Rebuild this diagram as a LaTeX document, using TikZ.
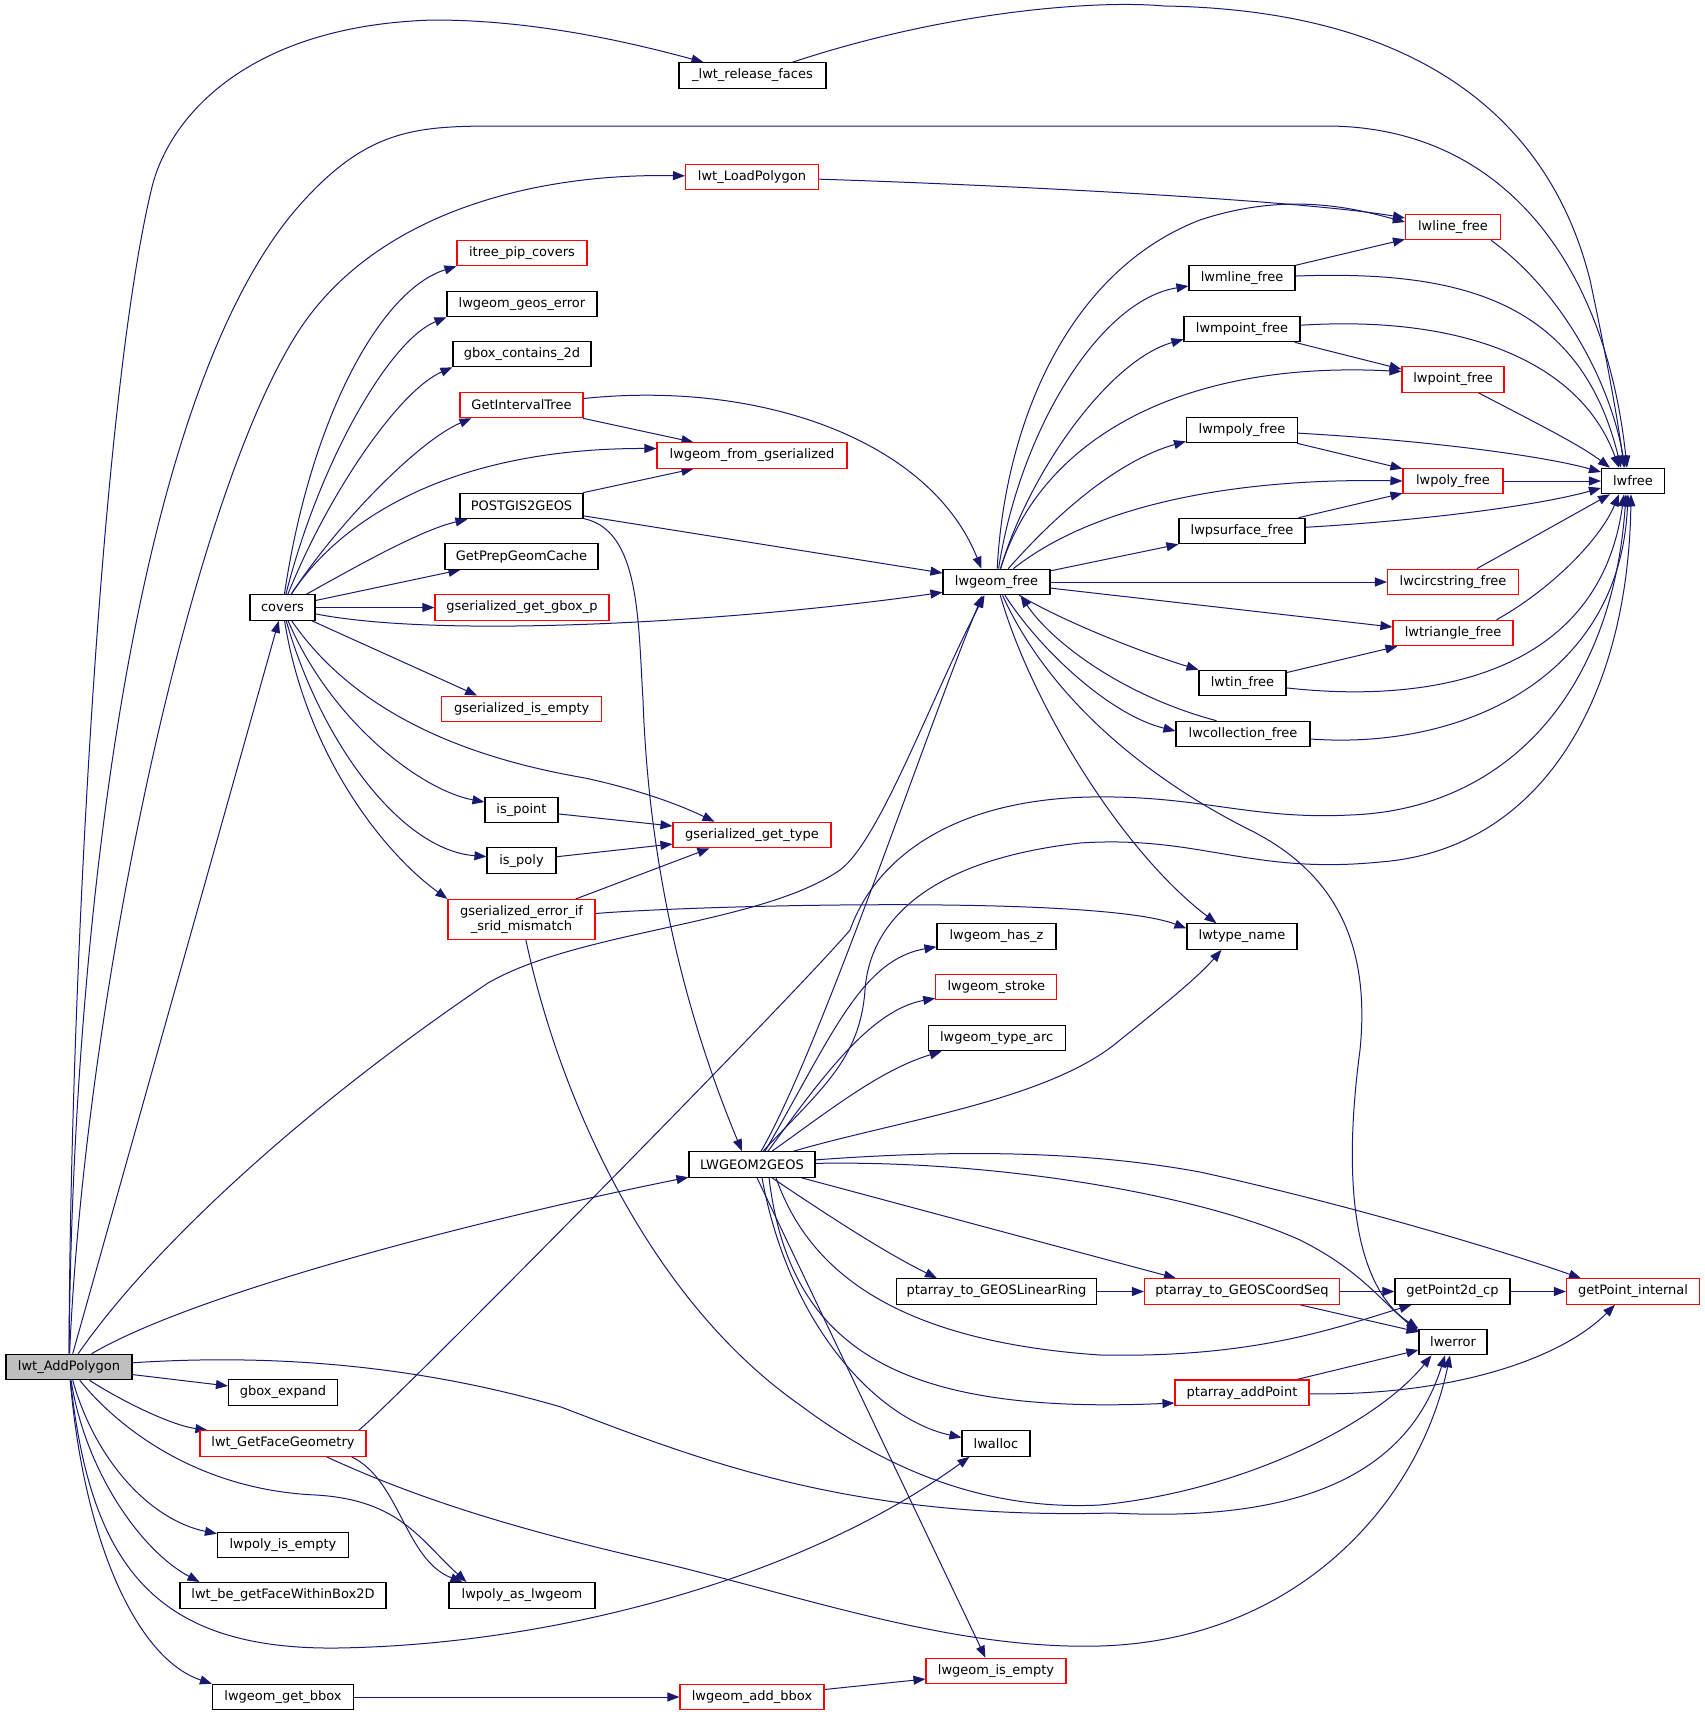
\documentclass[tikz,border=0pt]{standalone}
\usepackage{fontspec}
\setmainfont{DejaVu Sans}
\usetikzlibrary{arrows.meta,calc}
\definecolor{edgeblue}{HTML}{191970}
\definecolor{nodegray}{HTML}{BFBFBF}
\definecolor{boxred}{HTML}{FF0000}
\pgfdeclarelayer{bg}
\pgfsetlayers{bg,main}
\tikzset{
  box/.style={draw=black, line width=1.1pt, fill=white, inner sep=0pt, minimum height=25.5pt, font=\fontsize{13}{15}\selectfont, anchor=center, align=center},
  rbox/.style={box, draw=boxred},
  ed/.style={draw=edgeblue, line width=1pt, -{Triangle[length=12pt,width=9pt]}}
}
\begin{document}
\begin{tikzpicture}[x=1pt,y=-1pt]
\useasboundingbox (0,0) rectangle (1705,1716);
% nodes
\node[box, fill=nodegray, minimum width=126pt] (A) at (69,1367) {lwt\_AddPolygon};
\node[box, minimum width=147pt] (rf) at (752.5,75.5) {\_lwt\_release\_faces};
\node[rbox, minimum width=133pt] (lp) at (752,177) {lwt\_LoadPolygon};
\node[rbox, minimum width=130pt] (ipc) at (522,253) {itree\_pip\_covers};
\node[box, minimum width=150pt] (gge) at (522,304) {lwgeom\_geos\_error};
\node[box, minimum width=138pt] (gbc) at (522,354) {gbox\_contains\_2d};
\node[rbox, minimum width=123pt] (git) at (521.5,405) {GetIntervalTree};
\node[rbox, minimum width=190pt] (lfg) at (752,455.5) {lwgeom\_from\_gserialized};
\node[box, minimum width=123pt] (p2g) at (521.5,506) {POSTGIS2GEOS};
\node[box, minimum width=153pt] (gpgc) at (521.5,556.5) {GetPrepGeomCache};
\node[rbox, minimum width=174pt] (ggbp) at (522,607.5) {gserialized\_get\_gbox\_p};
\node[box, minimum width=65pt] (cov) at (282.5,607.5) {covers};
\node[rbox, minimum width=160pt] (gie) at (521.7,708.8) {gserialized\_is\_empty};
\node[box, minimum width=73pt] (isp) at (521.5,810) {is\_point};
\node[rbox, minimum width=158pt] (gst) at (752,835) {gserialized\_get\_type};
\node[box, minimum width=69pt] (ispo) at (521.5,860.6) {is\_poly};
\node[rbox, minimum width=147pt, minimum height=40pt] (gesm) at (521.5,919.5) {gserialized\_error\_if\\\_srid\_mismatch};
\node[box, minimum width=126pt] (l2g) at (752,1164.5) {LWGEOM2GEOS};
\node[rbox, minimum width=95pt] (llf) at (1453,227) {lwline\_free};
\node[box, minimum width=106pt] (lmlf) at (1242,278) {lwmline\_free};
\node[box, minimum width=116pt] (lmptf) at (1242,329) {lwmpoint\_free};
\node[rbox, minimum width=102pt] (lptf) at (1453,379.5) {lwpoint\_free};
\node[box, minimum width=111pt] (lmpyf) at (1242,430) {lwmpoly\_free};
\node[rbox, minimum width=100pt] (lpyf) at (1453,481) {lwpoly\_free};
\node[box, minimum width=63pt] (lwfr) at (1633,481) {lwfree};
\node[box, minimum width=126pt] (lpsf) at (1242,531) {lwpsurface\_free};
\node[box, minimum width=107pt] (lgf) at (996.5,582) {lwgeom\_free};
\node[rbox, minimum width=131pt] (lcsf) at (1453,582) {lwcircstring\_free};
\node[rbox, minimum width=120pt] (ltrf) at (1453,633) {lwtriangle\_free};
\node[box, minimum width=87pt] (ltinf) at (1242.5,683) {lwtin\_free};
\node[box, minimum width=134pt] (lcolf) at (1243,734) {lwcollection\_free};
\node[box, minimum width=110pt] (ltn) at (1242,936.5) {lwtype\_name};
\node[box, minimum width=119pt] (lhz) at (996.5,936.5) {lwgeom\_has\_z};
\node[rbox, minimum width=121pt] (lstr) at (996.3,987) {lwgeom\_stroke};
\node[box, minimum width=137pt] (lta) at (996.7,1038) {lwgeom\_type\_arc};
\node[box, minimum width=200pt] (plr) at (996.5,1291.5) {ptarray\_to\_GEOSLinearRing};
\node[rbox, minimum width=195pt] (pcs) at (1242,1291.5) {ptarray\_to\_GEOSCoordSeq};
\node[box, minimum width=115pt] (gp2) at (1452.5,1291.5) {getPoint2d\_cp};
\node[rbox, minimum width=133pt] (gpi) at (1633,1291.5) {getPoint\_internal};
\node[box, minimum width=68pt] (lerr) at (1453,1342) {lwerror};
\node[rbox, minimum width=134pt] (pap) at (1242,1392.7) {ptarray\_addPoint};
\node[box, minimum width=109pt] (gbe) at (283,1392.5) {gbox\_expand};
\node[rbox, minimum width=166pt] (gfg) at (283,1443.5) {lwt\_GetFaceGeometry};
\node[box, minimum width=68pt] (lall) at (996,1443.5) {lwalloc};
\node[box, minimum width=131pt] (lpie) at (283,1545) {lwpoly\_is\_empty};
\node[box, minimum width=206pt] (fwb) at (283,1595.3) {lwt\_be\_getFaceWithinBox2D};
\node[box, minimum width=146pt] (lpal) at (522,1595.3) {lwpoly\_as\_lwgeom};
\node[rbox, minimum width=140pt] (lgie) at (996,1671) {lwgeom\_is\_empty};
\node[box, minimum width=141pt] (lgb) at (283,1697) {lwgeom\_get\_bbox};
\node[rbox, minimum width=144pt] (lab) at (752,1697) {lwgeom\_add\_bbox};
\begin{pgfonlayer}{bg}
% lwt_AddPolygon
\draw[ed] (A) .. controls (70,1000) and (100,400) .. (152,187) .. controls (170,115) and (250,25) .. (434,20) .. controls (540,20) and (640,45) .. (rf);
\draw[ed] (A) .. controls (72,950) and (130,400) .. (298,207) .. controls (370,125) and (420,126) .. (510,126) -- (1326,126) .. controls (1500,126) and (1605,260) .. ($(lwfr.north)+(-6,0)$);
\draw[ed] (A) .. controls (85,1000) and (190,500) .. (298,332) .. controls (370,220) and (520,173) .. (lp);
\draw[ed] (A) -- (cov);
\draw[ed] (A) .. controls (200,1290) and (500,1215) .. (l2g);
\draw[ed] (A) .. controls (150,1250) and (300,1110) .. (488,983) .. controls (580,930) and (760,925) .. (840,870) .. controls (880,840) and (930,700) .. ($(lgf.south)+(-12,0)$);
\draw[ed] (A) -- (gbe);
\draw[ed] (A) .. controls (120,1400) and (170,1425) .. ($(gfg.north west)+(8,0)$);
\draw[ed] (A) .. controls (95,1460) and (150,1520) .. ($(lpie.north west)+(0,2)$);
\draw[ed] (A) .. controls (85,1470) and (140,1550) .. ($(fwb.north west)+(20,0)$);
\draw[ed] (A) .. controls (85,1550) and (140,1660) .. (lgb.north west);
\draw[ed] (A) .. controls (120,1430) and (200,1490) .. (316,1495) .. controls (400,1500) and (420,1540) .. ($(lpal.north west)+(18,0)$);
\draw[ed] (A) .. controls (90,1560) and (150,1650) .. (337,1648) .. controls (550,1645) and (800,1580) .. ($(lall.south west)+(8,0)$);
\draw[ed] (A) .. controls (250,1355) and (400,1360) .. (561,1407) .. controls (700,1460) and (850,1520) .. (1112,1513) .. controls (1250,1520) and (1400,1500) .. ($(lerr.south)+(-8,0)$);
% covers
\draw[ed] (cov) .. controls (310,420) and (380,290) .. (ipc.south west);
\draw[ed] (cov) .. controls (320,460) and (390,340) .. (gge.south west);
\draw[ed] (cov) .. controls (330,490) and (400,390) .. (gbc.south west);
\draw[ed] (cov) .. controls (340,520) and (420,440) .. ($(git.south west)+(12,0)$);
\draw[ed] (cov) .. controls (340,520) and (450,448) .. ($(lfg.west)+(0,-7)$);
\draw[ed] (cov) .. controls (350,570) and (420,530) .. ($(p2g.south west)+(8,0)$);
\draw[ed] (cov) -- ($(gpgc.south west)+(16,0)$);
\draw[ed] (cov) -- (ggbp);
\draw[ed] (cov) .. controls (450,640) and (750,620) .. ($(lgf.south west)+(0,-3)$);
\draw[ed] (cov) -- ($(gie.north west)+(36,0)$);
\draw[ed] (cov) .. controls (360,720) and (480,760) .. (585,778) .. controls (640,790) and (680,805) .. ($(gst.north west)+(42,0)$);
\draw[ed] (cov) .. controls (330,720) and (420,790) .. ($(isp.west)+(0,-8)$);
\draw[ed] (cov) .. controls (320,740) and (400,850) .. ($(ispo.west)+(0,-4)$);
\draw[ed] (cov) .. controls (305,750) and (380,850) .. (gesm.north west);
\draw[ed] (isp) -- ($(gst.west)+(0,-9)$);
\draw[ed] (ispo) -- ($(gst.west)+(0,9)$);
\draw[ed] (gesm) -- ($(gst.south west)+(37,0)$);
\draw[ed] (gesm) .. controls (700,905) and (1100,895) .. ($(ltn.west)+(0,-8)$);
\draw[ed] (gesm) .. controls (560,1100) and (650,1300) .. (800,1405) .. controls (900,1480) and (1000,1510) .. (1100,1505) .. controls (1250,1490) and (1380,1420) .. ($(lerr.south west)+(13,0)$);
% GetIntervalTree, POSTGIS2GEOS, LoadPolygon, release_faces
\draw[ed] (git) -- ($(lfg.north west)+(37,0)$);
\draw[ed] (git) .. controls (760,380) and (930,440) .. ($(lgf.north)+(-15,0)$);
\draw[ed] (p2g) -- ($(lfg.south west)+(37,0)$);
\draw[ed] (p2g) -- ($(lgf.west)+(0,-9)$);
\draw[ed] (p2g) .. controls (640,530) and (638,620) .. (643,700) .. controls (650,900) and (700,1050) .. ($(l2g.north)+(-10,0)$);
\draw[ed] (lp) .. controls (1000,185) and (1300,200) .. ($(llf.west)+(0,-9)$);
\draw[ed] (rf) .. controls (950,10) and (1100,0) .. (1164,6) .. controls (1420,10) and (1550,120) .. (1590,280) .. controls (1605,350) and (1618,420) .. ($(lwfr.north)+(-9,0)$);
% lwgeom_free
\draw[ed] (lgf) .. controls (1005,420) and (1070,270) .. (1200,220) .. controls (1290,190) and (1360,210) .. ($(llf.west)+(0,-5)$);
\draw[ed] (lgf) .. controls (1020,430) and (1100,300) .. ($(lmlf.west)+(0,8)$);
\draw[ed] (lgf) .. controls (1030,470) and (1110,360) .. ($(lmptf.south west)+(0,-3)$);
\draw[ed] (lgf) .. controls (1040,440) and (1180,360) .. ($(lptf.west)+(0,-8)$);
\draw[ed] (lgf) .. controls (1060,510) and (1120,460) .. ($(lmpyf.south west)+(0,-2)$);
\draw[ed] (lgf) .. controls (1100,500) and (1250,478) .. (lpyf.west);
\draw[ed] (lgf) -- (lpsf.south west);
\draw[ed] (lgf) -- (lcsf);
\draw[ed] (lgf) -- ($(ltrf.west)+(0,-6)$);
\draw[ed] (lgf) .. controls (1070,625) and (1150,655) .. (ltinf.north west);
\draw[ed] (lgf) .. controls (1040,650) and (1110,715) .. ($(lcolf.west)+(0,-3)$);
\draw[ed] ($(lcolf.north west)+(41,0)$) .. controls (1120,695) and (1050,640) .. ($(lgf.south)+(24,0)$);
\draw[ed] (lgf) .. controls (1030,700) and (1120,850) .. ($(ltn.north west)+(30,0)$);
\draw[ed] (lgf) .. controls (1050,700) and (1150,780) .. (1250,830) .. controls (1340,875) and (1370,950) .. (1360,1050) .. controls (1340,1200) and (1360,1290) .. (lerr.north west);
% free functions to lwfree
\draw[ed] (lmlf) -- ($(llf.south west)+(0,-1)$);
\draw[ed] (lmlf) .. controls (1460,270) and (1580,300) .. ($(lwfr.north)+(-12,0)$);
\draw[ed] (lmptf) .. controls (1460,315) and (1580,360) .. ($(lwfr.north)+(-14,0)$);
\draw[ed] (lmptf) -- ($(lptf.north west)+(0,3)$);
\draw[ed] ($(llf.south east)+(-10,0)$) .. controls (1560,290) and (1610,380) .. ($(lwfr.north)+(-8,0)$);
\draw[ed] (lptf) .. controls (1540,425) and (1580,445) .. ($(lwfr.north west)+(9,0)$);
\draw[ed] (lmpyf) .. controls (1420,440) and (1540,455) .. ($(lwfr.west)+(0,-9)$);
\draw[ed] (lmpyf) -- ($(lpyf.north west)+(0,1)$);
\draw[ed] (lpyf) -- (lwfr);
\draw[ed] (lpsf) -- ($(lpyf.south west)+(0,-1)$);
\draw[ed] (lpsf) .. controls (1430,520) and (1540,505) .. ($(lwfr.west)+(0,7)$);
\draw[ed] (lcsf) -- ($(lwfr.south west)+(9,0)$);
\draw[ed] ($(ltrf.north east)+(-17,0)$) .. controls (1550,590) and (1600,540) .. ($(lwfr.south)+(-14,0)$);
\draw[ed] (ltinf) -- ($(ltrf.south west)+(5,0)$);
\draw[ed] (ltinf) .. controls (1440,705) and (1600,670) .. ($(lwfr.south)+(-9,0)$);
\draw[ed] (lcolf) .. controls (1460,750) and (1620,680) .. ($(lwfr.south)+(-5,0)$);
% lwt_GetFaceGeometry
\draw[ed] ($(gfg.north east)+(-8,0)$) .. controls (378,1418) and (800,990) .. (850,930) .. controls (875,860) and (950,800) .. (1090,797) .. controls (1200,795) and (1250,820) .. (1350,815) .. controls (1500,810) and (1612,700) .. ($(lwfr.south)+(-7,0)$);
\draw[ed] ($(gfg.south east)+(-15,0)$) .. controls (400,1480) and (405,1560) .. ($(lpal.north west)+(14,0)$);
\draw[ed] ($(gfg.south east)+(-40,0)$) .. controls (420,1500) and (520,1530) .. (650,1560) .. controls (800,1595) and (950,1650) .. (1100,1646) .. controls (1300,1640) and (1420,1500) .. ($(lerr.south)+(-3,0)$);
% LWGEOM2GEOS
\draw[ed] ($(l2g.north)+(11,0)$) .. controls (820,1090) and (860,1060) .. (865,990) .. controls (870,920) and (930,860) .. (1080,843) .. controls (1200,835) and (1250,875) .. (1380,862) .. controls (1540,850) and (1628,700) .. ($(lwfr.south)+(-2,0)$);
\draw[ed] ($(l2g.north)+(9,0)$) .. controls (820,1050) and (930,720) .. ($(lgf.south)+(-14,0)$);
\draw[ed] ($(l2g.north)+(13,0)$) .. controls (830,1040) and (860,960) .. ($(lhz.south west)+(0,-3)$);
\draw[ed] ($(l2g.north)+(16,0)$) .. controls (820,1080) and (870,1010) .. ($(lstr.south west)+(0,-2)$);
\draw[ed] ($(l2g.north)+(20,0)$) .. controls (830,1110) and (880,1070) .. ($(lta.south west)+(14,0)$);
\draw[ed] ($(l2g.north east)+(-22,0)$) .. controls (900,1120) and (1050,1100) .. (1120,1040) .. controls (1170,1000) and (1200,975) .. ($(ltn.south west)+(35,0)$);
\draw[ed] (l2g) .. controls (950,1150) and (1080,1150) .. (1200,1172) .. controls (1350,1205) and (1500,1250) .. ($(gpi.north west)+(15,0)$);
\draw[ed] (l2g) .. controls (1000,1160) and (1200,1195) .. (1300,1240) .. controls (1360,1270) and (1380,1300) .. ($(lerr.north west)+(0,3)$);
\draw[ed] (l2g) -- ($(pcs.north west)+(32,0)$);
\draw[ed] ($(l2g.south)+(20,0)$) .. controls (820,1210) and (880,1250) .. ($(plr.north west)+(41,0)$);
\draw[ed] ($(l2g.south)+(24,0)$) .. controls (805,1260) and (880,1340) .. (1100,1355) .. controls (1250,1358) and (1330,1330) .. ($(gp2.south west)+(17,0)$);
\draw[ed] ($(l2g.south)+(17,0)$) .. controls (790,1350) and (900,1415) .. ($(pap.south west)+(0,-3)$);
\draw[ed] ($(l2g.south)+(10,0)$) .. controls (790,1330) and (880,1420) .. ($(lall.west)+(0,-6)$);
\draw[ed] ($(l2g.south)+(5,0)$) -- ($(lgie.north west)+(60,0)$);
% bottom chain
\draw[ed] (lgb) -- (lab);
\draw[ed] (lab) -- ($(lgie.west)+(0,8)$);
\draw[ed] (plr) -- (pcs);
\draw[ed] (pcs) -- (gp2);
\draw[ed] (pcs) -- ($(lerr.west)+(0,-10)$);
\draw[ed] (gp2) -- (gpi);
\draw[ed] (pap) -- ($(lerr.west)+(0,8)$);
\draw[ed] (pap) .. controls (1450,1396) and (1560,1360) .. ($(gpi.south west)+(49,0)$);
\end{pgfonlayer}
\end{tikzpicture}
\end{document}
